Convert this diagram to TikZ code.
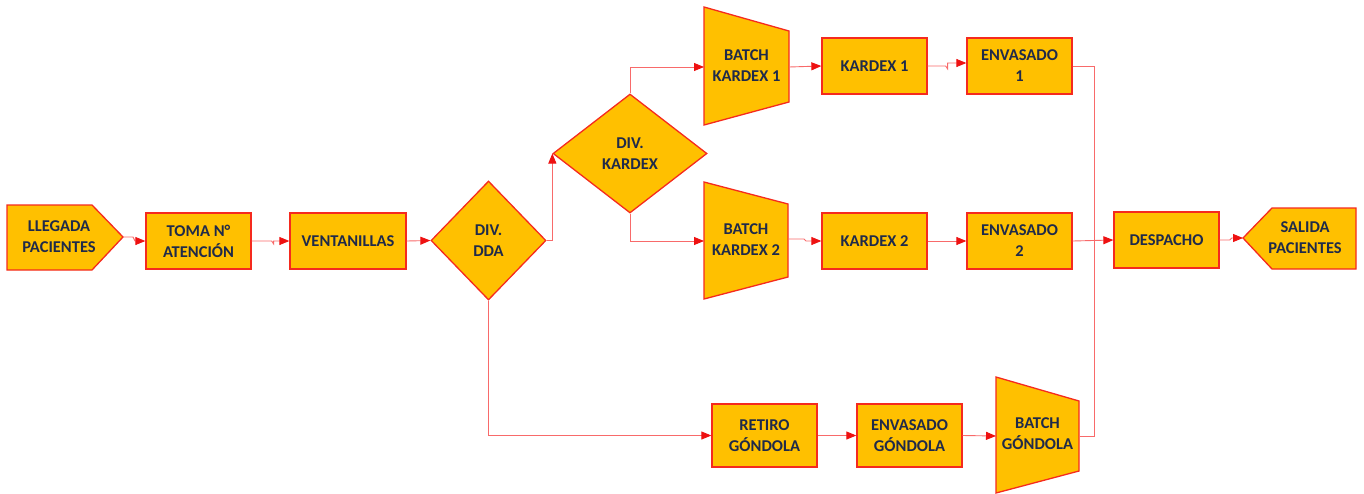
\documentclass[tikz,border=0pt]{standalone}
\usepackage{fontspec}
\setmainfont{Carlito}
\usetikzlibrary{shapes.geometric,arrows.meta}
\definecolor{boxfill}{HTML}{FFC000}
\definecolor{boxline}{HTML}{F52A1E}
\definecolor{flowline}{HTML}{F86A6A}
\definecolor{tipred}{HTML}{EE1111}
\definecolor{navy}{HTML}{1F2A4A}
\tikzset{
  shapeline/.style={draw=boxline, fill=boxfill, line width=1.3pt, line join=miter},
  label/.style={text=navy, font=\bfseries\fontsize{16.5}{21}\selectfont, align=center, inner sep=0pt},
  stepbox/.style={shapeline, label, rectangle, minimum width=105pt, minimum height=56pt},
  lowbox/.style={stepbox, minimum height=63pt},
  decision/.style={shapeline, label, diamond, inner sep=0pt},
  flow/.style={draw=flowline, line width=0.9pt,
    -{Triangle[length=10pt,width=8pt,color=tipred]}},
  plain/.style={draw=flowline, line width=0.9pt},
}
\begin{document}
\begin{tikzpicture}[x=1pt,y=-1pt]
\useasboundingbox (0,0) rectangle (1364,493);

% arrival and exit pentagons
\path[shapeline] (7,205) -- (92,205) -- (123,237) -- (92,270) -- (7,270) -- cycle;
\coordinate (llegadatip) at (123,237);
\node[label] (llegada) at (59,237) {LLEGADA\\PACIENTES};

\path[shapeline] (1356,208) -- (1272,208) -- (1243,238) -- (1272,269) -- (1356,269) -- cycle;
\coordinate (salidatip) at (1243,238);
\node[label] (salida) at (1305,238) {SALIDA\\PACIENTES};

% process steps
\node[stepbox] (toma) at (198.5,241) {TOMA N°\\ATENCIÓN};
\node[stepbox, minimum width=116pt] (vent) at (348,241) {VENTANILLAS};
\node[stepbox] (k1) at (874.5,66) {KARDEX 1};
\node[stepbox] (e1) at (1019.5,66) {ENVASADO\\1};
\node[stepbox] (k2) at (874.5,241) {KARDEX 2};
\node[stepbox] (e2) at (1019.5,241) {ENVASADO\\2};
\node[stepbox] (desp) at (1166.5,240) {DESPACHO};
\node[lowbox] (retiro) at (764.5,435.5) {RETIRO\\GÓNDOLA};
\node[lowbox] (envg) at (909.5,435.5) {ENVASADO\\GÓNDOLA};

% decisions
\node[decision, minimum width=115pt, minimum height=119pt] (dda) at (488.5,240.5) {DIV.\\DDA};
\node[decision, minimum width=154pt, minimum height=119pt] (kdx) at (630,153.5) {DIV.\\KARDEX};

% batch trapezoids
\path[shapeline] (704,7) -- (789,31) -- (789,102) -- (704,125) -- cycle;
\node[label] (bk1) at (746.5,66) {BATCH\\KARDEX 1};
\coordinate (bk1in) at (704,67);
\coordinate (bk1out) at (789,67);

\path[shapeline] (704,182) -- (788,204) -- (788,277) -- (704,299) -- cycle;
\node[label] (bk2) at (746,240) {BATCH\\KARDEX 2};
\coordinate (bk2in) at (704,241);
\coordinate (bk2out) at (788,239);

\path[shapeline] (996,377) -- (1079,401) -- (1079,471) -- (996,493) -- cycle;
\node[label] (bg) at (1037.5,434) {BATCH\\GÓNDOLA};
\coordinate (bgin) at (996,436);
\coordinate (bgout) at (1079,436);

% collector line into dispatch
\coordinate (bus) at (1094,241);

% connectors
\draw[flow] (llegadatip) -- ++(10,0) -- ++(2,4) |- (toma.west);
\draw[flow] (toma.east) -- ++(20,0) -- ++(2,3) |- (vent.west);
\draw[flow] (vent.east) -- (dda.west);
\draw[flow] (dda.east) -| (kdx.west);
\draw[flow] (kdx.north) |- (bk1in);
\draw[flow] (kdx.south) |- (bk2in);
\draw[flow] (bk1out) -- (k1.west);
\draw[flow] (k1.east) -- ++(18,0) -- ++(2,3) |- ([yshift=3pt]e1.west);
\draw[flow] (bk2out) -- ++(16,0) -- ++(2,2) |- (k2.west);
\draw[flow] (k2.east) -- (e2.west);
\draw[flow] (e2.east) -- (desp.west);
\draw[flow] (desp.east) -- ++(10,0) -- ++(2,-2) -- (salidatip);
\draw[flow] (dda.south) |- (retiro.west);
\draw[flow] (retiro.east) -- (envg.west);
\draw[flow] (envg.east) -- (bgin);
\draw[plain] (e1.east) -| (bus);
\draw[plain] (bgout) -| (bus);
\end{tikzpicture}
\end{document}
